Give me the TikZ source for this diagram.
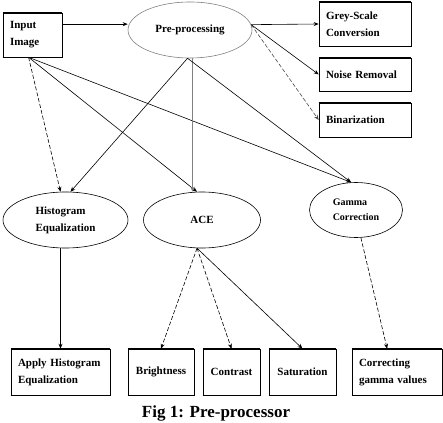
\documentclass[tikz,border=0pt]{standalone}
\usepackage{fontspec}
\setmainfont{Liberation Serif}
\usetikzlibrary{arrows.meta}
\usetikzlibrary{shapes.geometric}
\tikzset{>={Stealth[length=5pt,width=4pt]}}

\begin{document}
\begin{tikzpicture}[x=1pt, y=-1pt, line width=0.6pt,
    lbl/.style={font=\bfseries\fontsize{11}{17}\selectfont, align=left},
    stepbox/.style={lbl, draw, rectangle, inner xsep=7pt, inner ysep=0pt, minimum height=#1,
      append after command={(\tikzlastnode.north west) edge[line width=1.4pt] (\tikzlastnode.north east)
        (\tikzlastnode.south west) edge[line width=1.4pt] (\tikzlastnode.south east)}},
    oval/.style={lbl, draw, ellipse, inner sep=0pt},
    dsh/.style={dash pattern=on 4pt off 2pt}]
    \useasboundingbox (0,0) rectangle (443,422);

    % top row
    \node[stepbox=44pt, text width=45pt] (input) at (32.5,35) {Input\\Image};
    \node[oval, draw=gray, minimum width=124pt, minimum height=56pt] (pre) at (190,30) {Pre-processing};
    \node[stepbox=44pt, text width=78pt] (grey) at (365,24) {Grey-Scale\\Conversion};
    \node[stepbox=33pt, text width=78pt] (noise) at (365,74.5) {Noise Removal};
    \node[stepbox=34pt, text width=78pt] (bin) at (365,120) {Binarization};

    % middle row
    \node[oval, minimum width=125pt, minimum height=56pt] (hist) at (65.5,220) {Histogram\\Equalization};
    \node[oval, minimum width=117pt, minimum height=56pt] (ace) at (202,220) {ACE};
    \node[oval, minimum width=93pt, minimum height=55pt,
      font=\bfseries\fontsize{10}{15}\selectfont] (gamma) at (356,210) {Gamma\\Correction};

    % bottom row
    \node[stepbox=46pt, text width=85pt] (apply) at (60.5,372) {Apply Histogram\\Equalization};
    \node[stepbox=46pt, inner xsep=0pt, minimum width=66pt] (bright) at (161,372) {Brightness};
    \node[stepbox=46pt, inner xsep=0pt, minimum width=57pt] (contr) at (231.5,372) {Contrast};
    \node[stepbox=46pt, inner xsep=0pt, minimum width=67pt] (sat) at (302.5,372) {Saturation};
    \node[stepbox=46pt, text width=76pt] (corr) at (397,372) {Correcting\\gamma values};

    \node[font=\bfseries\fontsize{17}{20}\selectfont] (cap) at (216,413) {Fig 1: Pre-processor};

    % connectors
    \draw[->] (input.20) -- (pre.west |- input.20);
    \draw[->] (pre.5) -- (grey.west);
    \draw[->] (pre.5) -- (noise.west);
    \draw[->, dsh, black!70] (pre.5) -- (bin.west);

    \draw[->, dsh] (input.-100) -- (hist.100);
    \draw[->] (input.-100) -- (ace.100);
    \draw[->] (input.-100) -- (gamma.100);
    \draw[->] (pre.-95) -- (hist.80);
    \draw[->, gray] (pre.-85) -- (pre.-85 |- ace.north);
    \draw[->] (pre.-95) -- (gamma.100);

    \draw[->] (apply.north |- hist.south) -- (apply.north);
    \draw[->, dsh] (ace.-100) -- (bright.north);
    \draw[->, dsh] (ace.-100) -- (contr.north);
    \draw[->] (ace.-100) -- (sat.north);
    \draw[->, dsh] (gamma.-80) -- (corr.113);
  \end{tikzpicture}
\end{document}
